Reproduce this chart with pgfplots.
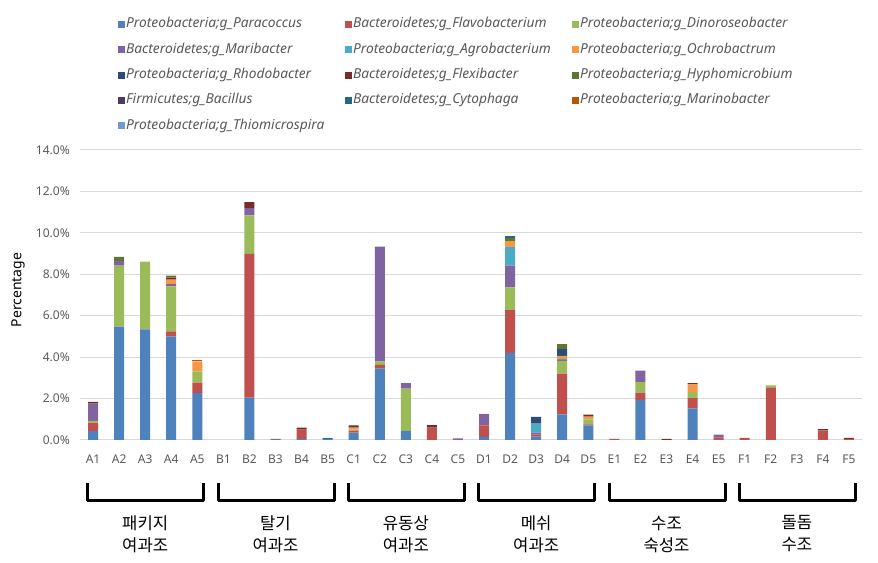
\documentclass[border=0pt]{standalone}
\usepackage{fontspec}
\setmainfont{Noto Sans}
\newfontfamily\kr{Noto Sans CJK KR}
\usepackage{pgfplots}
\pgfplotsset{compat=1.18}
\usepackage{pgfplotstable}

\definecolor{cPa}{HTML}{4F81BD}
\definecolor{cFl}{HTML}{C0504D}
\definecolor{cDi}{HTML}{9BBB59}
\definecolor{cMa}{HTML}{8064A2}
\definecolor{cAg}{HTML}{4BACC6}
\definecolor{cOc}{HTML}{F79646}
\definecolor{cRh}{HTML}{2C4D75}
\definecolor{cFx}{HTML}{772C2A}
\definecolor{cHy}{HTML}{5F7530}
\definecolor{cBa}{HTML}{4D3B62}
\definecolor{cCy}{HTML}{276A7C}
\definecolor{cMn}{HTML}{B65708}
\definecolor{cTh}{HTML}{729ACA}
\definecolor{txt}{HTML}{595959}
\definecolor{grd}{HTML}{D9D9D9}

% percentages, one row per sample
\pgfplotstableread{
x  Pa   Fl   Di   Ma   Ag   Oc   Rh   Fx   Hy   Ba   Cy   Mn   Th
0  0.43 0.41 0.08 0.84 0    0    0    0.08 0    0    0    0    0
1  5.47 0    2.95 0.21 0    0    0    0    0.21 0    0    0    0
2  5.34 0    3.27 0    0    0    0    0    0    0    0    0    0
3  5.00 0.24 2.18 0.11 0    0.21 0    0.10 0.10 0    0    0    0
4  2.26 0.51 0.54 0    0    0.48 0    0    0    0    0    0.05 0
5  0    0    0    0    0    0    0    0    0    0    0    0    0
6  2.05 6.93 1.86 0.35 0    0    0    0.29 0    0    0    0    0
7  0    0    0    0.05 0    0    0    0    0    0    0    0    0
8  0.05 0.45 0    0    0    0    0    0.10 0    0    0    0    0
9  0.04 0    0    0    0    0    0    0    0    0    0.05 0    0
10 0.35 0.10 0.05 0    0    0.10 0    0.10 0    0    0    0    0
11 3.45 0.18 0.16 5.55 0    0    0    0    0    0    0    0    0
12 0.44 0    2.04 0.26 0    0    0    0    0    0    0    0    0
13 0    0.60 0    0    0    0    0    0.12 0    0    0    0    0
14 0    0    0    0.08 0    0    0    0    0    0    0    0    0
15 0.15 0.56 0    0.55 0    0    0    0    0    0    0    0    0
16 4.21 2.06 1.10 1.05 0.89 0.29 0    0    0.14 0    0.10 0    0
17 0.16 0.10 0    0.10 0.43 0    0.33 0    0    0    0    0    0
18 1.24 1.97 0.61 0.05 0.05 0.14 0.33 0    0.24 0    0    0    0
19 0.70 0.05 0.25 0    0    0.13 0    0.10 0    0    0    0    0
20 0    0.05 0    0    0    0    0    0    0    0    0    0    0
21 1.94 0.35 0.50 0.56 0    0    0    0    0    0    0    0    0
22 0    0    0    0    0    0    0    0.05 0    0    0    0    0
23 1.53 0.49 0.29 0    0    0.38 0    0.05 0    0    0    0    0
24 0    0.12 0    0.14 0    0    0    0    0    0    0    0    0
25 0    0.10 0    0    0    0    0    0    0    0    0    0    0
26 0    2.52 0.12 0    0    0    0    0    0    0    0    0    0
27 0    0    0    0    0    0    0    0    0    0    0    0    0
28 0    0.47 0    0    0    0    0    0.05 0    0    0    0    0
29 0    0.05 0    0    0    0    0    0.05 0    0    0    0    0
}\data

\newcommand{\legtxt}[1]{\makebox[163pt][l]{\itshape #1}}
% bracket under a group of five samples, with its name
\newcommand{\grp}[3]{%
    \draw[black, line width=2.25pt, line join=round]
        (axis cs:#1-0.2,-2.08) -- (axis cs:#1-0.2,-2.9)
        -- (axis cs:#1+4.25,-2.9) -- (axis cs:#1+4.25,-2.08);
    \node[align=center, font=\kr\fontsize{12.5}{16.5}\selectfont, inner sep=0pt]
        at (axis cs:#1+2,-4.54) {#2\\#3};
}

\begin{document}
\begin{tikzpicture}
\path[use as bounding box] (0,0) rectangle (658.5pt,422.25pt);
\begin{axis}[
    at={(60pt,92.25pt)}, anchor=south west,
    scale only axis,
    width=586.5pt, height=217.5pt,
    ybar stacked, bar width=7.5pt,
    xmin=-0.5, xmax=29.5,
    ymin=0, ymax=14,
    ytick={0,2,...,14},
    xtick={0,...,29},
    xticklabels={A1,A2,A3,A4,A5,B1,B2,B3,B4,B5,C1,C2,C3,C4,C5,D1,D2,D3,D4,D5,E1,E2,E3,E4,E5,F1,F2,F3,F4,F5},
    yticklabel={\pgfmathprintnumber[fixed,fixed zerofill,precision=1]{\tick}\%},
    /pgf/number format/assume math mode=true,
    major tick length=0pt,
    axis line style={draw=none},
    ymajorgrids=true,
    grid style={grd, line width=0.75pt},
    tick label style={text=txt, font=\fontsize{9}{11}\selectfont},
    yticklabel style={inner sep=0pt, xshift=-7.5pt},
    xticklabel style={inner sep=0pt, yshift=-11pt},
    ylabel={Percentage},
    ylabel style={at={(axis description cs:-0.0793,0.517)}, anchor=center, font=\fontsize{10.5}{12}\selectfont},
    clip=false,
    legend columns=3,
    legend cell align=left,
    legend image code/.code={\path[#1,draw=none] (0pt,-2.6pt) rectangle (5.2pt,2.6pt);},
    legend style={draw=none, fill=none, at={(axis description cs:0.043,1.47)}, anchor=north west,
        font=\fontsize{10.3}{12}\selectfont, text=txt, row sep=7pt, column sep=0pt,
        nodes={inner sep=1pt, text height=7.5pt, text depth=2.5pt}},
]
\addplot[fill=cPa, draw=none] table[x=x, y=Pa] {\data};
\addlegendentry{\legtxt{Proteobacteria;g\_Paracoccus}}
\addplot[fill=cFl, draw=none] table[x=x, y=Fl] {\data};
\addlegendentry{\legtxt{Bacteroidetes;g\_Flavobacterium}}
\addplot[fill=cDi, draw=none] table[x=x, y=Di] {\data};
\addlegendentry{\legtxt{Proteobacteria;g\_Dinoroseobacter}}
\addplot[fill=cMa, draw=none] table[x=x, y=Ma] {\data};
\addlegendentry{\legtxt{Bacteroidetes;g\_Maribacter}}
\addplot[fill=cAg, draw=none] table[x=x, y=Ag] {\data};
\addlegendentry{\legtxt{Proteobacteria;g\_Agrobacterium}}
\addplot[fill=cOc, draw=none] table[x=x, y=Oc] {\data};
\addlegendentry{\legtxt{Proteobacteria;g\_Ochrobactrum}}
\addplot[fill=cRh, draw=none] table[x=x, y=Rh] {\data};
\addlegendentry{\legtxt{Proteobacteria;g\_Rhodobacter}}
\addplot[fill=cFx, draw=none] table[x=x, y=Fx] {\data};
\addlegendentry{\legtxt{Bacteroidetes;g\_Flexibacter}}
\addplot[fill=cHy, draw=none] table[x=x, y=Hy] {\data};
\addlegendentry{\legtxt{Proteobacteria;g\_Hyphomicrobium}}
\addplot[fill=cBa, draw=none] table[x=x, y=Ba] {\data};
\addlegendentry{\legtxt{Firmicutes;g\_Bacillus}}
\addplot[fill=cCy, draw=none] table[x=x, y=Cy] {\data};
\addlegendentry{\legtxt{Bacteroidetes;g\_Cytophaga}}
\addplot[fill=cMn, draw=none] table[x=x, y=Mn] {\data};
\addlegendentry{\legtxt{Proteobacteria;g\_Marinobacter}}
\addplot[fill=cTh, draw=none] table[x=x, y=Th] {\data};
\addlegendentry{\legtxt{Proteobacteria;g\_Thiomicrospira}}

\grp{0}{패키지}{여과조}
\grp{5}{탈기}{여과조}
\grp{10}{유동상}{여과조}
\grp{15}{메쉬}{여과조}
\grp{20}{수조}{숙성조}
\grp{25}{돌돔}{수조}
\end{axis}
\end{tikzpicture}
\end{document}
